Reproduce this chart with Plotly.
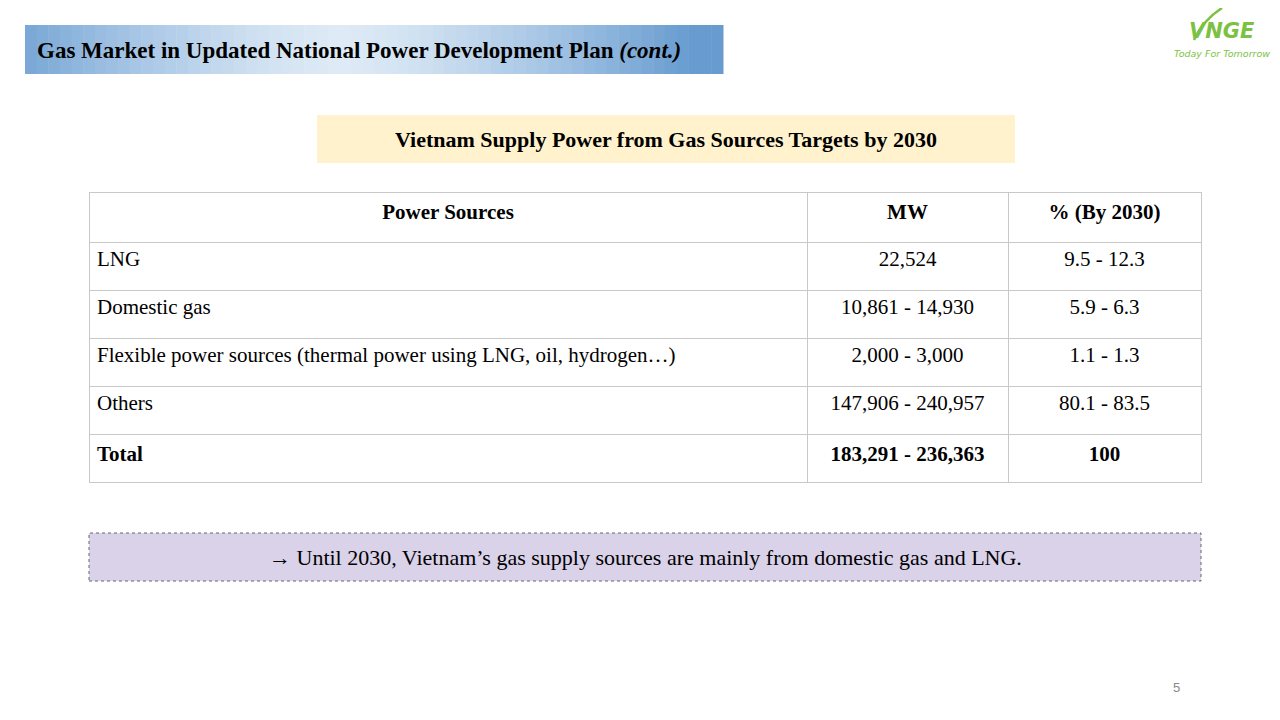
import plotly.graph_objects as go

W, H = 1280, 720
OFF = 8  # page body margin in the browser

header = ["Power Sources", "MW", "% (By 2030)"]
sources = ["LNG", "Domestic gas",
           "Flexible power sources (thermal power using LNG, oil, hydrogen…)",
           "Others", "Total"]
mw = ["22,524", "10,861 - 14,930", "2,000 - 3,000", "147,906 - 240,957", "183,291 - 236,363"]
share = ["9.5 - 12.3", "5.9 - 6.3", "1.1 - 1.3", "80.1 - 83.5", "100"]


def px_x(v):
    return (v - OFF) / W


def px_y(v):
    return 1 - (v - OFF) / H


def bold_last(col):
    return [f"<b>{v}</b>" if i == len(col) - 1 else v for i, v in enumerate(col)]


font = "Liberation Serif, Times New Roman, serif"

fig = go.Figure()
fig.add_trace(go.Table(
    domain=dict(x=[px_x(89), px_x(1201)], y=[px_y(484), px_y(192)]),
    columnwidth=[718, 201, 193],
    header=dict(
        values=[f"<b>{h}</b>" for h in header],
        height=50, align="center", fill_color="white",
        line=dict(color="#c8c8c8", width=1),
        font=dict(family=font, size=21, color="black"),
    ),
    cells=dict(
        values=[bold_last(sources), bold_last(mw), bold_last(share)],
        height=48, align=["left", "center", "center"], fill_color="white",
        line=dict(color="#c8c8c8", width=1),
        font=dict(family=font, size=21, color="black"),
    ),
))

shapes = []
# gradient title banner
x0, x1, n = 25, 723, 60
for i in range(n):
    t = abs((i + 0.5) / n - 0.45) * 2
    t = min(t, 1) ** 1.4
    c0, c1 = (222, 234, 246), (104, 156, 208)
    col = tuple(round(a + (b - a) * t) for a, b in zip(c0, c1))
    shapes.append(dict(type="rect", xref="paper", yref="paper",
                       x0=px_x(x0 + (x1 - x0) * i / n), x1=px_x(x0 + (x1 - x0) * (i + 1) / n + 0.5),
                       y0=px_y(74), y1=px_y(25), line=dict(width=0),
                       fillcolor=f"rgb{col}", layer="below"))
# subtitle box
shapes.append(dict(type="rect", xref="paper", yref="paper", x0=px_x(317), x1=px_x(1015),
                   y0=px_y(163), y1=px_y(115), fillcolor="#fff2cc", line=dict(width=0), layer="below"))
# conclusion box
shapes.append(dict(type="rect", xref="paper", yref="paper", x0=px_x(89), x1=px_x(1201),
                   y0=px_y(581), y1=px_y(533), fillcolor="#d9d2e9",
                   line=dict(color="#666666", width=1, dash="dot"), layer="below"))
# logo swoosh
shapes.append(dict(type="path", xref="paper", yref="paper",
                   path=f"M {px_x(1194)} {px_y(40)} Q {px_x(1203)} {px_y(20)} {px_x(1222)} {px_y(8)}",
                   line=dict(color="#7cc242", width=2.5)))

annotations = [
    dict(x=px_x(35), y=px_y(50), xanchor="left", yanchor="middle",
         text="<b>Gas Market in Updated National Power Development Plan <i>(cont.)</i></b>",
         font=dict(family=font, size=23, color="black")),
    dict(x=px_x(666), y=px_y(139), xanchor="center", yanchor="middle",
         text="<b>Vietnam Supply Power from Gas Sources Targets by 2030</b>",
         font=dict(family=font, size=22, color="black")),
    dict(x=px_x(645), y=px_y(557), xanchor="center", yanchor="middle",
         text="→ Until 2030, Vietnam’s gas supply sources are mainly from domestic gas and LNG.",
         font=dict(family=font, size=22, color="black")),
    dict(x=px_x(1182), y=px_y(687), xanchor="right", yanchor="middle", text="5",
         font=dict(family="Liberation Sans, Arial", size=13, color="#888888")),
    dict(x=px_x(1222), y=px_y(31), xanchor="center", yanchor="middle",
         text="<b><i>VNGE</i></b>",
         font=dict(family="DejaVu Sans", size=21, color="#7cc242")),
    dict(x=px_x(1222), y=px_y(53), xanchor="center", yanchor="middle",
         text="<i>Today For Tomorrow</i>",
         font=dict(family="DejaVu Sans", size=9.5, color="#7cc242")),
]
for a in annotations:
    a.update(xref="paper", yref="paper", showarrow=False)

fig.update_layout(
    width=W, height=H, margin=dict(l=0, r=0, t=0, b=0),
    paper_bgcolor="white", plot_bgcolor="white",
    shapes=shapes, annotations=annotations,
)
fig.write_html("out.html")
